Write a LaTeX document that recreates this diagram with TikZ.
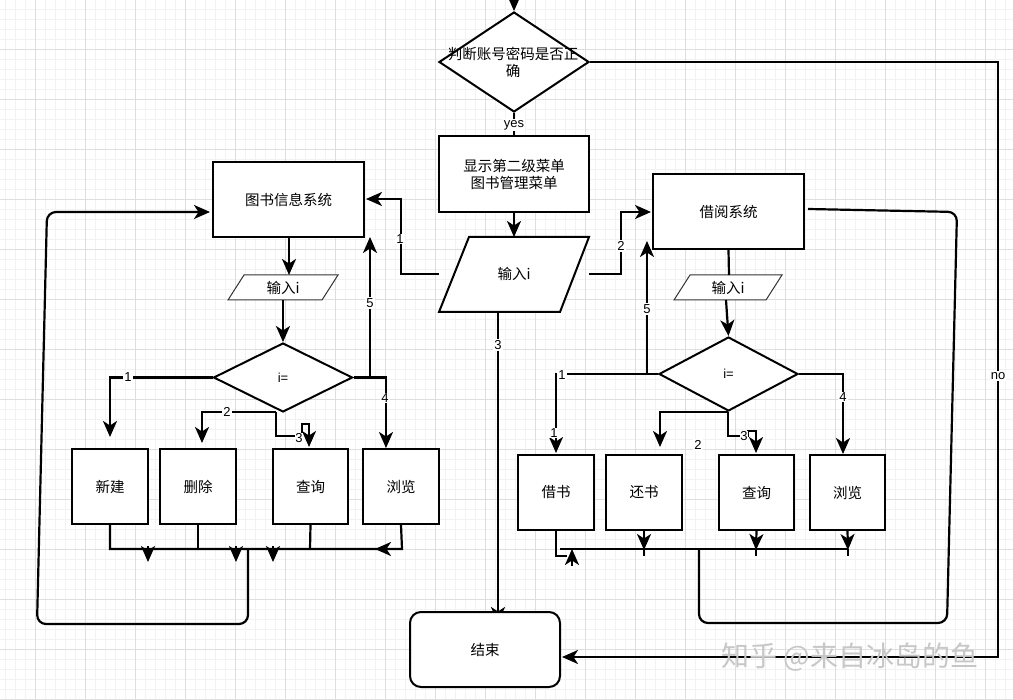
\documentclass[tikz,border=0pt]{standalone}
\usepackage{fontspec}
\setmainfont{Liberation Sans}
\newfontfamily\cjk{Noto Sans CJK SC}
\usetikzlibrary{shapes.geometric,arrows.meta}
\begin{document}
\begin{tikzpicture}[x=1pt,y=-1pt,
  box/.style={draw,line width=2pt,fill=white,inner sep=0pt,font=\cjk\fontsize{14.5}{17}\selectfont,align=center},
  dia/.style={diamond,draw,line width=2pt,fill=white,inner sep=0pt},
  para/.style={draw,fill=white,line width=2pt},
  thinpara/.style={draw=black!80,fill=white,line width=1pt},
  txt/.style={font=\cjk\fontsize{14.5}{17}\selectfont,align=center,inner sep=0pt},
  ln/.style={line width=2.2pt},
  arr/.style={-{Stealth[length=16pt,width=14pt,inset=4.5pt]}},
  lab/.style={fill=white,inner sep=1pt,font=\fontsize{13}{13}\selectfont},
  gridminor/.style={draw=black!5,line width=0.8pt},
  gridmajor/.style={draw=black!13,line width=0.9pt}]
\useasboundingbox (0,0) rectangle (1013,700);
\fill[white] (0,0) rectangle (1013,700);
% grid
\foreach \x in {5.7,15.7,...,1013} \draw[gridminor] (\x,0) -- (\x,700);
\foreach \y in {9.3,19.3,...,700} \draw[gridminor] (0,\y) -- (1013,\y);
\foreach \x in {35.7,85.7,...,1013} \draw[gridmajor] (\x,0) -- (\x,700);
\foreach \y in {49.3,99.3,...,700} \draw[gridmajor] (0,\y) -- (1013,\y);

% connector hidden under the end box
\coordinate (c3top) at (498,312);
\coordinate (c3end) at (498,623);
\draw[ln,arr] (c3top) -- (c3end);

% nodes
\node[dia,minimum width=150,minimum height=100] (d0) at (514,62) {};
\node[txt] at (513,62) {判断账号密码是否正\\确};
\node[box,minimum width=150,minimum height=76] (sys2) at (514,174) {显示第二级菜单\\图书管理菜单};
\node[box,minimum width=151,minimum height=75] (info) at (288.5,199.5) {图书信息系统};
\node[box,minimum width=151,minimum height=75] (borrow) at (728.5,211.5) {借阅系统};
\draw[para] (469,237) -- (589,237) -- (560,312) -- (439,312) -- cycle;
\node[txt] (p0) at (514,274) {输入i};
\draw[thinpara] (244,275) -- (338,275) -- (322,300) -- (228,300) -- cycle;
\node[txt] (pL) at (283,287.5) {输入i};
\draw[thinpara] (690,275) -- (782,275) -- (766,300) -- (674,300) -- cycle;
\node[txt] (pR) at (728,287.5) {输入i};
\node[dia,minimum width=139,minimum height=69] (dL) at (283,377.5) {};
\node[txt,font=\fontsize{13}{13}\selectfont] at (283,377.5) {i=};
\node[dia,minimum width=139,minimum height=74] (dR) at (728.5,374) {};
\node[txt,font=\fontsize{13}{13}\selectfont] at (728.5,374) {i=};
\node[box,minimum width=76,minimum height=75] (xj) at (110,486.5) {新建};
\node[box,minimum width=76,minimum height=75] (sc) at (198,486.5) {删除};
\node[box,minimum width=75,minimum height=75] (cxL) at (310.5,486.5) {查询};
\node[box,minimum width=76,minimum height=75] (llL) at (401,486.5) {浏览};
\node[box,minimum width=76,minimum height=75] (js) at (556,492.5) {借书};
\node[box,minimum width=76,minimum height=75] (hs) at (644,492.5) {还书};
\node[box,minimum width=75,minimum height=75] (cxR) at (756.5,492.5) {查询};
\node[box,minimum width=75,minimum height=75] (llR) at (847.5,492.5) {浏览};
\node[box,rounded corners=11pt,minimum width=150,minimum height=75] (end) at (485,649.5) {结束};

% top
\coordinate (topin) at (514,-5);
\draw[ln,arr] (topin) -- (d0.north);
\draw[ln] (d0.south) -- (sys2.north) node[lab,pos=0.55] {yes};
\draw[ln,arr] (sys2.south) -- (514,237);
\node[lab] at (498,345) {3};
% 1 / 2 from main input
\draw[ln,arr] (439,274) -- (401,274) -- (401,199) -- (366,199);
\node[lab] at (400,239) {1};
\draw[ln,arr] (589,274) -- (621,274) -- (621,212) -- (651,212);
\node[lab] at (621,246) {2};
% no
\draw[ln,arr] (d0.east) -- (998,62) -- (998,657) -- (562,657);
\node[lab] at (998,376) {no};

% left subsystem
\draw[ln,arr] (289,237) -- (289,275);
\draw[ln,arr] (283,300) -- (dL.north);
\draw[ln,arr] (dL.west) -- (110,377.5) -- (110,437);
\node[lab] at (128,377.5) {1};
\draw[ln,arr] (276,412) -- (202,412) -- (202,443);
\node[lab] at (227,412) {2};
\draw[ln,arr] (276,412) -- (276,436) -- (302,436) -- (302,424) -- (309,424) -- (309,447);
\node[lab,inner sep=0pt] at (299,438) {3};
\draw[ln,arr] (dL.east) -- (386,377.5) -- (386,448);
\node[lab] at (385,398) {4};
\draw[ln,arr] (370,377.5) -- (370,237);
\node[lab] at (370,303) {5};
% left collector
\draw[ln] (xj.south) -- (110,549) -- (402,549) -- (llL.south);
\draw[ln] (sc.south) -- (198,549);
\draw[ln] (cxL.south) -- (310,549);
\draw[ln,arr] (148,546) -- (148,562);
\draw[ln,arr] (236,546) -- (236,562);
\draw[ln,arr] (273,546) -- (273,562);
\draw[ln,arr] (391,549) -- (375,549);
\draw[ln,arr,rounded corners=9pt] (248,549) -- (248,624) -- (37,624) -- (47,212) -- (210,212);

% right subsystem
\draw[ln] (borrow.south) -- (729,275);
\draw[ln,arr] (726,300) -- (dR.north);
\draw[ln,arr] (dR.west) -- (556,374) -- (556,453);
\node[lab] at (562,375) {1};
\node[lab] at (554,433) {1};
\draw[ln,arr] (728,412) -- (660,412) -- (660,447);
\node[lab] at (698,445) {2};
\draw[ln,arr] (728,412) -- (728,436) -- (748,436) -- (748,431) -- (756,431) -- (756,453);
\node[lab,inner sep=0pt] at (744,436) {3};
\draw[ln,arr] (dR.east) -- (843,374) -- (843,454);
\node[lab] at (843,397) {4};
\draw[ln,arr] (647,374) -- (647,241);
\node[lab] at (647,309) {5};
% right collector
\draw[ln] (560,549) -- (848,549);
\draw[ln,arr] (hs.south) -- (644,550);
\draw[ln,arr] (cxR.south) -- (756,550);
\draw[ln,arr] (llR.south) -- (848,550);
\draw[ln] (644,549) -- (644,556);
\draw[ln] (756,549) -- (756,556);
\draw[ln] (848,549) -- (848,556);
\draw[ln] (js.south) -- (556,556) -- (567,556);
\draw[ln,arr] (572,566) -- (572,549);
\draw[ln,rounded corners=9pt] (808,209) -- (957,212) -- (947,623) -- (699,623) -- (699,549);

% watermark
\node[text=black!22,font=\cjk\fontsize{28}{28}\selectfont,inner sep=0pt] (wm) at (850,657) {知乎 @来自冰岛的鱼};
\end{tikzpicture}
\end{document}
